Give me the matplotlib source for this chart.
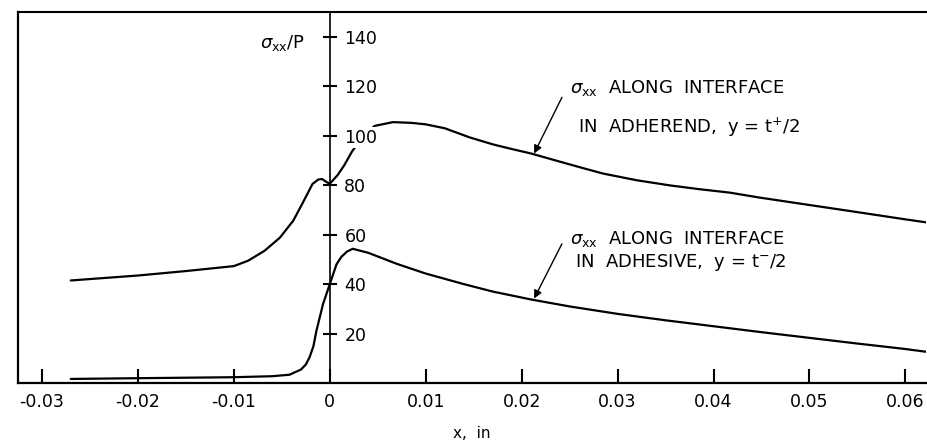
import matplotlib
matplotlib.use("Agg")
import matplotlib.pyplot as plt
from matplotlib.lines import Line2D
from matplotlib.ticker import FuncFormatter

# sigma_xx / P along interface in adherend, y = t+/2
adherend_x = [-0.027, -0.020, -0.015, -0.010, -0.0085, -0.0068, -0.0052, -0.0038,
              -0.0028, -0.0018, -0.0012, -0.0008, -0.0003, 0.0, 0.0008, 0.0015,
              0.0023, 0.0035, 0.0047, 0.0066, 0.0085, 0.010, 0.012, 0.0146,
              0.017, 0.019, 0.021, 0.024, 0.0265, 0.0285, 0.032, 0.0355,
              0.0385, 0.0417, 0.0448, 0.050, 0.0552, 0.060, 0.0625]
adherend_y = [41.5, 43.5, 45.3, 47.3, 49.5, 53.5, 58.8, 65.7,
              73.0, 80.5, 82.3, 82.5, 81.2, 80.6, 84.0, 88.0,
              93.5, 100.0, 104.0, 105.5, 105.2, 104.6, 103.0, 99.3,
              96.5, 94.6, 92.8, 89.5, 86.8, 84.7, 82.0, 79.9,
              78.4, 77.0, 75.0, 72.0, 69.0, 66.2, 64.8]

# sigma_xx / P along interface in adhesive, y = t-/2
adhesive_x = [-0.027, -0.020, -0.010, -0.006, -0.0042, -0.003, -0.0025, -0.0021,
              -0.0017, -0.0014, -0.0007, 0.0, 0.0007, 0.0012, 0.0018, 0.0024,
              0.0040, 0.0070, 0.010, 0.0139, 0.017, 0.021, 0.025, 0.030,
              0.035, 0.040, 0.045, 0.050, 0.055, 0.060, 0.0625]
adhesive_y = [1.7, 2.0, 2.4, 2.8, 3.4, 5.5, 7.5, 10.5,
              15.0, 21.0, 32.0, 40.0, 48.0, 51.0, 53.2, 54.3,
              52.7, 48.2, 44.3, 40.1, 37.0, 33.8, 31.0, 28.0,
              25.4, 23.0, 20.6, 18.3, 16.0, 13.8, 12.5]

x_ticks = [-0.03, -0.02, -0.01, 0, 0.01, 0.02, 0.03, 0.04, 0.05, 0.06]
y_ticks = [20, 40, 60, 80, 100, 120, 140]

fig = plt.figure(figsize=(9.27, 4.45), dpi=100)
ax = fig.add_axes([0.0194, 0.139, 0.979, 0.834])
ax.set_axisbelow(False)

ax.plot(adherend_x, adherend_y, color="black", lw=1.6, solid_capstyle="round",
        solid_joinstyle="round")
ax.plot(adhesive_x, adhesive_y, color="black", lw=1.6, solid_capstyle="round",
        solid_joinstyle="round")

ax.set_xlim(-0.0325, 0.0621)
ax.set_ylim(0, 150)

# y axis runs through x = 0, frame on the left is drawn separately
ax.spines["left"].set_position(("data", 0))
ax.spines["left"].set_linewidth(1.2)
ax.spines["right"].set_visible(False)
ax.spines["top"].set_linewidth(1.5)
ax.spines["bottom"].set_linewidth(1.6)
ax.add_line(Line2D([0, 0], [0, 1], transform=ax.transAxes, color="black", lw=1.6,
                   clip_on=False))

ax.set_xticks(x_ticks)
ax.xaxis.set_major_formatter(FuncFormatter(lambda v, p: "0" if abs(v) < 1e-9 else f"{v:.2f}"))
ax.tick_params(axis="x", direction="in", length=10, width=1.5, pad=7, labelsize=12.5)

ax.set_yticks(y_ticks)
ax.tick_params(axis="y", direction="inout", length=10, width=1.5, pad=-15.5, labelsize=12.5)
for lab in ax.get_yticklabels():
    lab.set_horizontalalignment("left")
    # the curve is broken where it runs behind a label
    lab.set_bbox(dict(facecolor="white", edgecolor="none", pad=1.0))

ax.set_xlabel("x,  in", fontsize=11, labelpad=11)

ax.text(-0.0026, 137.5, r"$\sigma_{\rm xx}$/P", ha="right", va="center", fontsize=13)

# annotations
ax.text(0.0250, 119.2, r"$\sigma_{\rm xx}$  ALONG  INTERFACE", ha="left", va="center", fontsize=13)
ax.text(0.0259, 103.4, r"IN  ADHEREND,  y = t$^{+}$/2", ha="left", va="center", fontsize=13)
ax.annotate("", xy=(0.0213, 92.8), xytext=(0.0242, 115.5),
            arrowprops=dict(arrowstyle="-|>", color="black", lw=1.0, mutation_scale=12, shrinkA=0, shrinkB=0))

ax.text(0.0250, 58.4, r"$\sigma_{\rm xx}$  ALONG  INTERFACE", ha="left", va="center", fontsize=13)
ax.text(0.0256, 48.6, r"IN  ADHESIVE,  y = t$^{-}$/2", ha="left", va="center", fontsize=13)
ax.annotate("", xy=(0.0213, 34.2), xytext=(0.0242, 56.3),
            arrowprops=dict(arrowstyle="-|>", color="black", lw=1.0, mutation_scale=12, shrinkA=0, shrinkB=0))

fig.savefig("out.png", dpi=100)
